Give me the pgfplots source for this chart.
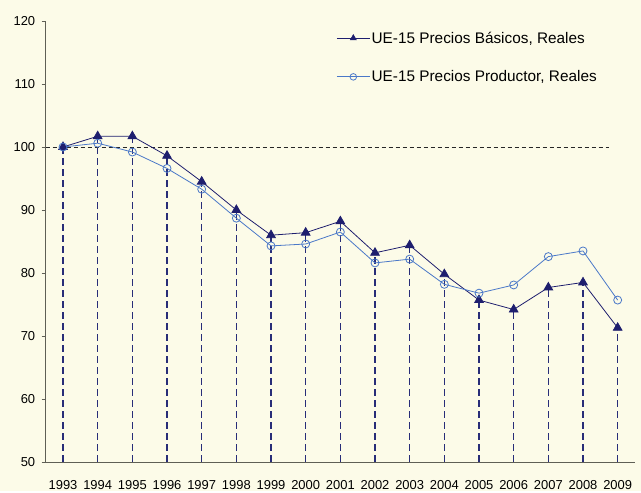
\documentclass[border=0pt]{standalone}
\usepackage{pgfplots}
\pgfplotsset{compat=1.18}
\usepackage{fontspec}
\setmainfont{Liberation Sans}
\usetikzlibrary{backgrounds,calc}
\definecolor{bgc}{RGB}{252,251,232}
\definecolor{navy}{RGB}{30,30,110}
\definecolor{lblue}{RGB}{74,120,200}
\definecolor{axc}{RGB}{95,95,85}
\definecolor{dropc}{RGB}{40,45,120}
\begin{document}
\begin{tikzpicture}
\begin{axis}[
  scale only axis, width=589.3bp, height=441bp,
  xmin=-0.5, xmax=16.5, ymin=50, ymax=120,
  axis lines=left,
  axis line style={-, draw=axc, line width=0.9pt},
  xtick={0,...,16},
  xticklabels={1993,1994,1995,1996,1997,1998,1999,2000,2001,2002,2003,2004,2005,2006,2007,2008,2009},
  x tick style={draw=none},
  ytick={50,60,...,120},
  y tick style={draw=axc, line width=0.8pt},
  tick align=outside,
  major tick length=4bp,
  tick label style={font=\fontsize{13}{15}\selectfont},
  /pgf/number format/assume math mode=true,
  xticklabel style={yshift=-11bp},
  yticklabel style={xshift=-3bp},
  clip=false,
  legend style={draw=none, fill=none, at={(0.488,0.985)}, anchor=north west,
    font=\fontsize{15.4}{17}\selectfont, row sep=22bp, legend cell align=left,
    nodes={inner xsep=1.5bp}},
  legend image code/.code={\draw[mark repeat=2,mark phase=2, mark size=3.3bp] plot coordinates {(0cm,0cm) (0.58cm,0cm) (1.16cm,0cm)};},
]
\coordinate (sw) at (rel axis cs:0,0);
\coordinate (ne) at (rel axis cs:1,1);
% drop lines
\addplot[ycomb, dropc, line width=1.1pt, dash pattern=on 7bp off 4bp, forget plot, no markers] coordinates {
(0,100) (1,101.7) (2,101.7) (3,98.6) (4,94.5) (5,90.0) (6,86.0) (7,86.4) (8,88.2)
(9,83.2) (10,84.4) (11,79.8) (12,75.7) (13,74.2) (14,77.7) (15,78.5) (16,71.3)};
% reference line at 100
\addplot[black!85, line width=0.8pt, dash pattern=on 4bp off 3bp, forget plot] coordinates {(-0.5,100) (15.76,100)};
\addplot[navy, line width=0.8pt, mark=triangle*, mark size=5bp, mark options={fill=navy, draw=navy}] coordinates {
(0,100) (1,101.7) (2,101.7) (3,98.6) (4,94.5) (5,90.0) (6,86.0) (7,86.4) (8,88.2)
(9,83.2) (10,84.4) (11,79.8) (12,75.7) (13,74.2) (14,77.7) (15,78.5) (16,71.3)};
\addlegendentry{UE-15 Precios Básicos, Reales}
\addplot[lblue, line width=0.8pt, mark=o, mark size=4bp, mark options={draw=lblue, line width=0.8pt}] coordinates {
(0,100) (1,100.6) (2,99.2) (3,96.6) (4,93.3) (5,88.7) (6,84.3) (7,84.6) (8,86.5)
(9,81.6) (10,82.2) (11,78.2) (12,76.8) (13,78.1) (14,82.6) (15,83.5) (16,75.7)};
\addlegendentry{UE-15 Precios Productor, Reales}
\end{axis}
\begin{scope}[on background layer]
\fill[bgc] ($(sw)+(-45.7bp,-29bp)$) rectangle ($(ne)+(6bp,21bp)$);
\end{scope}
\end{tikzpicture}
\end{document}
